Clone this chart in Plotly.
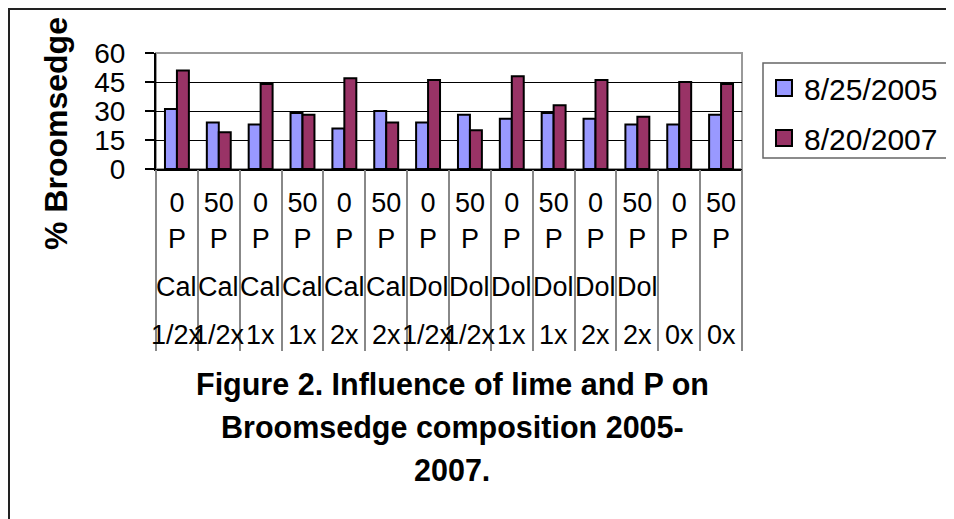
import plotly.graph_objects as go

# ---- data ----
p_rate = ["0", "50", "0", "50", "0", "50", "0", "50", "0", "50", "0", "50", "0", "50"]
lime_src = ["Cal", "Cal", "Cal", "Cal", "Cal", "Cal", "Dol", "Dol", "Dol", "Dol", "Dol", "Dol", "", ""]
lime_rate = ["1/2x", "1/2x", "1x", "1x", "2x", "2x", "1/2x", "1/2x", "1x", "1x", "2x", "2x", "0x", "0x"]
series_names = ["8/25/2005", "8/20/2007"]
series_colors = ["#9999FF", "#993366"]
vals_2005 = [31, 24, 23, 29, 21, 30, 24, 28, 26, 29, 26, 23, 23, 28]
vals_2007 = [51, 19, 44, 28, 47, 24, 46, 20, 48, 33, 46, 27, 45, 44]
y_ticks = [0, 15, 30, 45, 60]
title_lines = ["Figure 2. Influence of lime and P on", "Broomsedge composition 2005-", "2007."]
y_title = "% Broomsedge"

categories = [f"{p} P {s} {r} #{i}" for i, (p, s, r) in enumerate(zip(p_rate, lime_src, lime_rate))]
tick_text = [f"{p}<br>P" for p in p_rate]

FONT = "Liberation Sans, Arial, sans-serif"
W, H = 954, 519
OFF = 8  # page body margin
L, R, T, B = 156, 742, 53, 169  # plot area in page px


def px_x(px):
    return (px - L) / (R - L)


def px_y(py):
    return (B - py) / (B - T)


fig = go.Figure()
for name, vals, col, grp in zip(series_names, [vals_2005, vals_2007], series_colors, ["a", "b"]):
    fig.add_trace(go.Bar(name=name, x=categories, y=vals,
                         marker=dict(color=col, line=dict(color="black", width=2)),
                         legendgroup=grp, showlegend=False))
    # legend entry with a larger square swatch
    fig.add_trace(go.Scatter(name=name, x=[None], y=[None], mode="markers", legendgroup=grp,
                             marker=dict(symbol="square", size=16, color=col, line=dict(color="black", width=2)),
                             showlegend=True, hoverinfo="skip"))
# invisible trace carrying the category divider axis
fig.add_trace(go.Scatter(x=categories, y=vals_2005, xaxis="x2", mode="markers",
                         marker=dict(opacity=0), showlegend=False, hoverinfo="skip"))

annotations = []
for c, s, r in zip(categories, lime_src, lime_rate):
    if s:
        annotations.append(dict(x=c, y=px_y(287), xref="x", yref="paper", text=s, showarrow=False,
                                font=dict(family=FONT, size=27, color="black"), xanchor="center", yanchor="middle"))
    annotations.append(dict(x=c, y=px_y(335), xref="x", yref="paper", text=r, showarrow=False,
                            font=dict(family=FONT, size=27, color="black"), xanchor="center", yanchor="middle"))
for line, cy in zip(title_lines, [384, 427, 470]):
    annotations.append(dict(x=px_x(452), y=px_y(cy), xref="paper", yref="paper", text=f"<b>{line}</b>",
                            showarrow=False, font=dict(family=FONT, size=30.5, color="black"),
                            xanchor="center", yanchor="middle"))
annotations.append(dict(x=px_x(56), y=px_y(133), xref="paper", yref="paper", text=f"<b>{y_title}</b>",
                        textangle=-90, showarrow=False, font=dict(family=FONT, size=32, color="black"),
                        xanchor="center", yanchor="middle"))

shapes = [
    # outer frame (top and left edges visible in the window)
    dict(type="line", xref="paper", yref="paper", x0=px_x(8), x1=px_x(1000), y0=px_y(9), y1=px_y(9),
         line=dict(color="#222", width=2)),
    dict(type="line", xref="paper", yref="paper", x0=px_x(9), x1=px_x(9), y0=px_y(8), y1=px_y(600),
         line=dict(color="#222", width=2)),
    # plot area border
    dict(type="rect", xref="paper", yref="paper", x0=0, x1=1, y0=0, y1=1,
         line=dict(color="#999", width=2), layer="below"),
    # legend box
    dict(type="rect", xref="paper", yref="paper", x0=px_x(763), x1=px_x(1000), y0=px_y(158), y1=px_y(63),
         line=dict(color="#666", width=1.5)),
]

fig.update_layout(
    width=W, height=H,
    margin=dict(l=L - OFF, r=W - (R - OFF), t=T - OFF, b=H - (B - OFF), autoexpand=False),
    paper_bgcolor="white", plot_bgcolor="white",
    barmode="group", bargap=0.4286, bargroupgap=0,
    font=dict(family=FONT, color="black"),
    showlegend=True,
    legend=dict(x=px_x(764), y=px_y(62), xanchor="left", yanchor="top",
                font=dict(family=FONT, size=30, color="black"),
                bgcolor="rgba(0,0,0,0)", borderwidth=0,
                traceorder="grouped", tracegroupgap=8),
    xaxis=dict(type="category", categoryorder="array", categoryarray=categories,
               range=[-0.5, len(categories) - 0.5],
               tickvals=categories, ticktext=tick_text, ticks="",
               tickfont=dict(family=FONT, size=27, color="black"),
               ticklabelstandoff=9,
               showline=True, linecolor="black", linewidth=2, showgrid=False, zeroline=False),
    xaxis2=dict(type="category", categoryorder="array", categoryarray=categories, overlaying="x",
                range=[-0.5, len(categories) - 0.5], anchor="y", side="bottom",
                showticklabels=False, ticks="outside", ticklen=181, tickson="boundaries",
                tickcolor="#888", tickwidth=1.5, showline=False, showgrid=False, zeroline=False),
    yaxis=dict(range=[0, 60], tickvals=y_ticks, ticks="outside", ticklen=9, tickcolor="black",
               tickwidth=1.5, tickfont=dict(family=FONT, size=28, color="black"),
               ticklabelstandoff=14,
               showline=True, linecolor="black", linewidth=2,
               showgrid=True, gridcolor="black", gridwidth=1, zeroline=False),
    annotations=annotations,
    shapes=shapes,
)

fig.write_html("out.html")
